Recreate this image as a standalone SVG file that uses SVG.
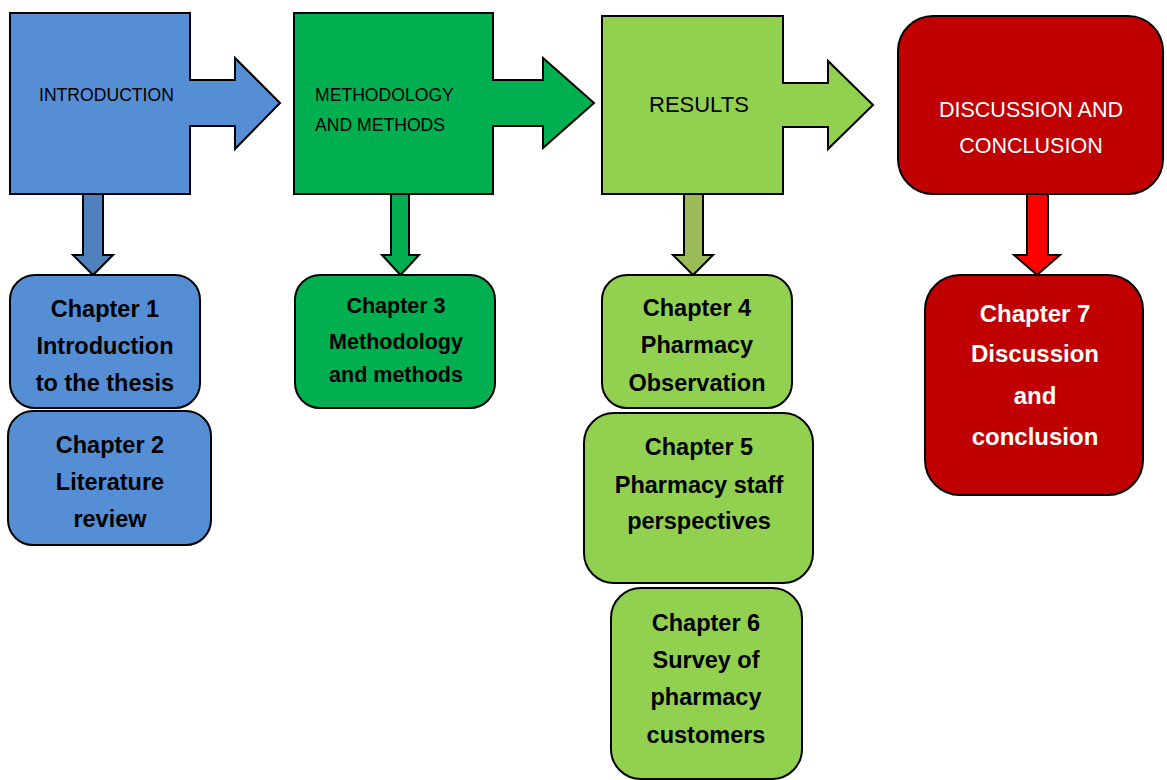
<svg xmlns="http://www.w3.org/2000/svg" width="1167" height="780" viewBox="0 0 1167 780">
<style>
.s{stroke:#000;stroke-width:2;stroke-linejoin:miter}
.blue{fill:#558ED5}
.green{fill:#00B050}
.lg{fill:#92D050}
.red{fill:#C00000}
.h{font-family:"Liberation Sans",Arial,sans-serif;fill:#000}
.b{font-family:"Liberation Sans",Arial,sans-serif;font-weight:bold;fill:#000;text-anchor:middle;font-size:23.5px}
.b.m{font-size:21.5px}
.b.l{font-size:24px}
.w{fill:#fff}
</style>
<rect width="1167" height="780" fill="#fff"/>
<g id="connectors">
<path class="s" fill="#4F81BD" d="M83,194 V255 H73 L93,275 L113,255 H103 V194 Z"/>
<path class="s" fill="#00B050" d="M391,194 V255 H382 L400.5,275 L419,255 H409 V194 Z"/>
<path class="s" fill="#9BBB59" d="M684,194 V255 H673 L693,275 L713,255 H703 V194 Z"/>
<path class="s" fill="#FF0000" d="M1027,194 V255 H1014 L1037,275 L1060,255 H1048 V194 Z"/>
</g>
<g id="introduction">
<path class="s blue" d="M10,13 H190 V80 H235 V58 L280,103 L235,149 V126 H190 V194 H10 Z"/>
<text class="h" x="39" y="101" font-size="17.6">INTRODUCTION</text>
</g>
<g id="methodology">
<path class="s green" d="M294,13 H493 V80 H543 V58 L594,103 L543,148 V126 H493 V194 H294 Z"/>
<text class="h" x="315" y="101" font-size="17.6">METHODOLOGY</text>
<text class="h" x="315" y="131" font-size="17.6">AND METHODS</text>
</g>
<g id="results">
<path class="s lg" d="M602,16 H783 V83 H828 V61 L873,105 L828,149 V127 H783 V194 H602 Z"/>
<text class="h" x="649" y="112" font-size="22">RESULTS</text>
</g>
<g id="discussion">
<rect class="s red" x="898" y="16" width="265" height="178" rx="35"/>
<text class="h w" x="1031" y="117" font-size="21.5" text-anchor="middle">DISCUSSION AND</text>
<text class="h w" x="1031" y="153" font-size="21.5" text-anchor="middle">CONCLUSION</text>
</g>
<g id="chapter1">
<rect class="s blue" x="10" y="275" width="190" height="133" rx="25"/>
<text class="b" x="105" y="317">Chapter 1</text>
<text class="b" x="105" y="354">Introduction</text>
<text class="b" x="105" y="391">to the thesis</text>
</g>
<g id="chapter2">
<rect class="s blue" x="8" y="411" width="203" height="134" rx="25"/>
<text class="b" x="110" y="453">Chapter 2</text>
<text class="b" x="110" y="490">Literature</text>
<text class="b" x="110" y="527">review</text>
</g>
<g id="chapter3">
<rect class="s green" x="295" y="275" width="200" height="133" rx="25"/>
<text class="b m" x="396" y="313">Chapter 3</text>
<text class="b m" x="396" y="349">Methodology</text>
<text class="b m" x="396" y="382">and methods</text>
</g>
<g id="chapter4">
<rect class="s lg" x="602" y="275" width="190" height="133" rx="25"/>
<text class="b" x="697" y="316">Chapter 4</text>
<text class="b" x="697" y="353">Pharmacy</text>
<text class="b" x="697" y="391">Observation</text>
</g>
<g id="chapter5">
<rect class="s lg" x="584" y="413" width="229" height="170" rx="30"/>
<text class="b" x="699" y="455">Chapter 5</text>
<text class="b" x="699" y="493">Pharmacy staff</text>
<text class="b" x="699" y="529">perspectives</text>
</g>
<g id="chapter6">
<rect class="s lg" x="611" y="588" width="191" height="191" rx="30"/>
<text class="b" x="706" y="631">Chapter 6</text>
<text class="b" x="706" y="668">Survey of</text>
<text class="b" x="706" y="705">pharmacy</text>
<text class="b" x="706" y="743">customers</text>
</g>
<g id="chapter7">
<rect class="s red" x="925" y="275" width="218" height="220" rx="35"/>
<text class="b l w" x="1035" y="322">Chapter 7</text>
<text class="b l w" x="1035" y="362">Discussion</text>
<text class="b l w" x="1035" y="404">and</text>
<text class="b l w" x="1035" y="445">conclusion</text>
</g>
</svg>
